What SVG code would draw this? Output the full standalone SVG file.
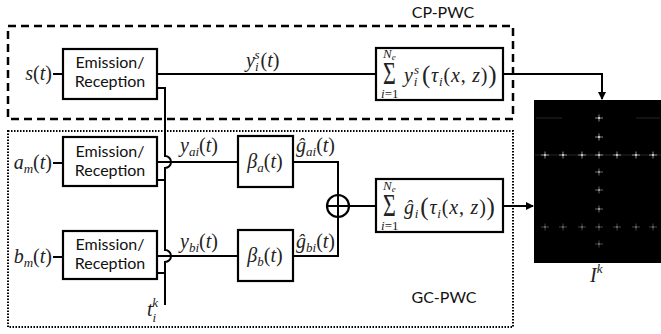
<svg xmlns="http://www.w3.org/2000/svg" width="661" height="334" viewBox="0 0 661 334">
<style>
.box{fill:#fff;stroke:#000;stroke-width:2.2}
.ln{fill:none;stroke:#000;stroke-width:2}
.lbl{font-family:Lato,"Liberation Sans",sans-serif;font-size:16px;fill:#111}
.m{font-family:"Liberation Serif","DejaVu Serif",serif;font-style:italic;font-size:20px;fill:#222}
.u{font-style:normal}
.sb{font-size:13px}
.sm{font-family:"Liberation Serif","DejaVu Serif",serif;font-style:italic;font-size:13px;fill:#222}
.big{font-style:normal;font-size:25px}
.wide{letter-spacing:0.8px}
.dot{stroke:#8a8a8a;stroke-width:1}
</style>
<defs>
<marker id="ah" markerWidth="8" markerHeight="8" refX="7" refY="4" orient="auto" markerUnits="userSpaceOnUse">
<path d="M0,0 L8,4 L0,8 Z" fill="#000"/>
</marker>
<g id="spot">
<line class="dot" x1="-4" y1="0" x2="4" y2="0"/>
<line class="dot" x1="0" y1="-3.5" x2="0" y2="3.5"/>
<circle r="1.1" fill="#d8d8d8"/>
</g>
</defs>

<!-- frames -->
<g id="cp-pwc">
<rect x="8" y="26" width="505" height="93" fill="none" stroke="#000" stroke-width="2.5" stroke-dasharray="8 5"/>
<text class="lbl" x="443" y="18" text-anchor="middle">CP-PWC</text>
</g>
<g id="gc-pwc">
<rect x="8" y="131" width="505" height="196" fill="none" stroke="#000" stroke-width="2" stroke-dasharray="1.5 1.5"/>
<text class="lbl" x="444" y="303" text-anchor="middle">GC-PWC</text>
</g>

<!-- connectors -->
<g id="connectors">
<line class="ln" x1="53" y1="74" x2="63" y2="74"/>
<line class="ln" x1="53" y1="163" x2="63" y2="163"/>
<line class="ln" x1="53" y1="257" x2="63" y2="257"/>
<line class="ln" x1="157" y1="74" x2="376" y2="74"/>
<path class="ln" d="M157,88 H165 V156 A5,5 0 0 1 165,168 V250 A5,5 0 0 1 165,262 V305"/>
<line class="ln" x1="157" y1="180" x2="165" y2="180"/>
<line class="ln" x1="157" y1="273" x2="165" y2="273"/>
<line class="ln" x1="157" y1="162" x2="238" y2="162"/>
<line class="ln" x1="157" y1="256" x2="238" y2="256"/>
<path class="ln" d="M293,162 H338 V195"/>
<path class="ln" d="M293,256 H338 V217"/>
<line class="ln" x1="349" y1="206" x2="376" y2="206"/>
<path class="ln" d="M503,74 H602 V99" marker-end="url(#ah)"/>
<line class="ln" x1="503" y1="206" x2="533" y2="206" marker-end="url(#ah)"/>
</g>

<!-- emission/reception blocks -->
<g id="er1">
<rect class="box" x="63" y="49" width="94" height="50"/>
<text class="lbl" x="110" y="68" text-anchor="middle">Emission/</text>
<text class="lbl" x="110" y="87" text-anchor="middle">Reception</text>
</g>
<g id="er2">
<rect class="box" x="63" y="137" width="94" height="49"/>
<text class="lbl" x="110" y="157" text-anchor="middle">Emission/</text>
<text class="lbl" x="110" y="176" text-anchor="middle">Reception</text>
</g>
<g id="er3">
<rect class="box" x="63" y="231" width="94" height="48"/>
<text class="lbl" x="110" y="250" text-anchor="middle">Emission/</text>
<text class="lbl" x="110" y="269" text-anchor="middle">Reception</text>
</g>

<!-- inputs -->
<g id="in-s"><text class="m" x="52" y="80" text-anchor="end">s<tspan class="u">(</tspan>t<tspan class="u">)</tspan></text></g>
<g id="in-a"><text class="m" x="52" y="169" text-anchor="end">a<tspan class="sb" dy="4">m</tspan><tspan class="u" dy="-4">(</tspan>t<tspan class="u">)</tspan></text></g>
<g id="in-b"><text class="m" x="52" y="263" text-anchor="end">b<tspan class="sb" dy="4">m</tspan><tspan class="u" dy="-4">(</tspan>t<tspan class="u">)</tspan></text></g>

<!-- signal labels -->
<g id="lbl-ys"><text class="m" x="246" y="67">y<tspan class="sb" dy="4">i</tspan><tspan class="sb" dx="-4" dy="-12">s</tspan><tspan class="u" dx="1" dy="8">(</tspan>t<tspan class="u">)</tspan></text></g>
<g id="lbl-yai"><text class="m" x="180" y="152">y<tspan class="sb" dy="4">ai</tspan><tspan class="u" dy="-4">(</tspan>t<tspan class="u">)</tspan></text></g>
<g id="lbl-ybi"><text class="m" x="180" y="248">y<tspan class="sb" dy="4">bi</tspan><tspan class="u" dy="-4">(</tspan>t<tspan class="u">)</tspan></text></g>
<g id="lbl-gai"><text class="m" x="296" y="152">ĝ<tspan class="sb" dy="4">ai</tspan><tspan class="u" dy="-4">(</tspan>t<tspan class="u">)</tspan></text></g>
<g id="lbl-gbi"><text class="m" x="296" y="248">ĝ<tspan class="sb" dy="4">bi</tspan><tspan class="u" dy="-4">(</tspan>t<tspan class="u">)</tspan></text></g>
<g id="lbl-tik"><text class="m" x="147" y="316">t<tspan class="sb" dy="6">i</tspan><tspan class="sb" dx="-4" dy="-15">k</tspan></text></g>

<!-- beta blocks -->
<g id="beta-a">
<rect class="box" x="238" y="136" width="55" height="51"/>
<text class="m" x="265" y="168" text-anchor="middle">β<tspan class="sb" dy="4">a</tspan><tspan class="u" dy="-4">(</tspan>t<tspan class="u">)</tspan></text>
</g>
<g id="beta-b">
<rect class="box" x="238" y="230" width="55" height="51"/>
<text class="m" x="265" y="262" text-anchor="middle">β<tspan class="sb" dy="4">b</tspan><tspan class="u" dy="-4">(</tspan>t<tspan class="u">)</tspan></text>
</g>

<!-- adder -->
<g id="adder">
<circle cx="338" cy="206" r="11" fill="#fff" stroke="#000" stroke-width="2.2"/>
<line class="ln" x1="327" y1="206" x2="349" y2="206"/>
<line class="ln" x1="338" y1="195" x2="338" y2="217"/>
</g>

<!-- sum blocks -->
<g id="sum-cp">
<rect class="box" x="376" y="48" width="127" height="52"/>
<text class="m u" transform="translate(383,84) scale(1,1.4)" style="font-style:normal;font-size:22px">Σ</text>
<text class="sm" x="383" y="58">N<tspan dy="2" style="font-size:9px">e</tspan></text>
<text class="sm" x="381" y="98">i<tspan class="u">=1</tspan></text>
<text class="m wide" x="404" y="82">y<tspan class="sb" dy="4">i</tspan><tspan class="sb" dx="-4" dy="-12">s</tspan><tspan class="big" dx="2" dy="9">(</tspan><tspan dy="-1">τ</tspan><tspan class="sb" dy="4">i</tspan><tspan class="u" dy="-4">(</tspan>x<tspan class="u">, </tspan>z<tspan class="u">)</tspan><tspan class="big" dy="1">)</tspan></text>
</g>
<g id="sum-gc">
<rect class="box" x="376" y="179" width="127" height="53"/>
<text class="m u" transform="translate(383,216) scale(1,1.4)" style="font-style:normal;font-size:22px">Σ</text>
<text class="sm" x="383" y="190">N<tspan dy="2" style="font-size:9px">e</tspan></text>
<text class="sm" x="381" y="230">i<tspan class="u">=1</tspan></text>
<text class="m wide" x="404" y="214">ĝ<tspan class="sb" dy="4">i</tspan><tspan class="big" dx="1" dy="-3">(</tspan><tspan dy="-1">τ</tspan><tspan class="sb" dy="4">i</tspan><tspan class="u" dy="-4">(</tspan>x<tspan class="u">, </tspan>z<tspan class="u">)</tspan><tspan class="big" dy="1">)</tspan></text>
</g>

<!-- image -->
<g id="image">
<rect x="534" y="100" width="127" height="163" fill="#000"/>
<line x1="535" y1="155" x2="661" y2="155" stroke="#262626" stroke-width="1"/>
<line x1="536" y1="118" x2="562" y2="118" stroke="#262626" stroke-width="1"/>
<line x1="636" y1="118" x2="660" y2="118" stroke="#262626" stroke-width="1"/>
<use href="#spot" x="599" y="118"/>
<use href="#spot" x="599" y="137"/>
<use href="#spot" x="545" y="155"/><use href="#spot" x="563" y="155"/><use href="#spot" x="582" y="155"/><use href="#spot" x="599" y="155"/><use href="#spot" x="617" y="155"/><use href="#spot" x="636" y="155"/><use href="#spot" x="653" y="155"/>
<g opacity="0.75"><use href="#spot" x="599" y="172"/>
<use href="#spot" x="599" y="190"/>
<use href="#spot" x="599" y="209"/></g>
<g opacity="0.5"><use href="#spot" x="545" y="227"/><use href="#spot" x="563" y="227"/><use href="#spot" x="582" y="227"/><use href="#spot" x="599" y="227"/><use href="#spot" x="617" y="227"/><use href="#spot" x="636" y="227"/><use href="#spot" x="653" y="227"/>
<use href="#spot" x="599" y="244"/></g>
<text class="m" x="590" y="282">I<tspan class="sb" dy="-9">k</tspan></text>
</g>
</svg>
